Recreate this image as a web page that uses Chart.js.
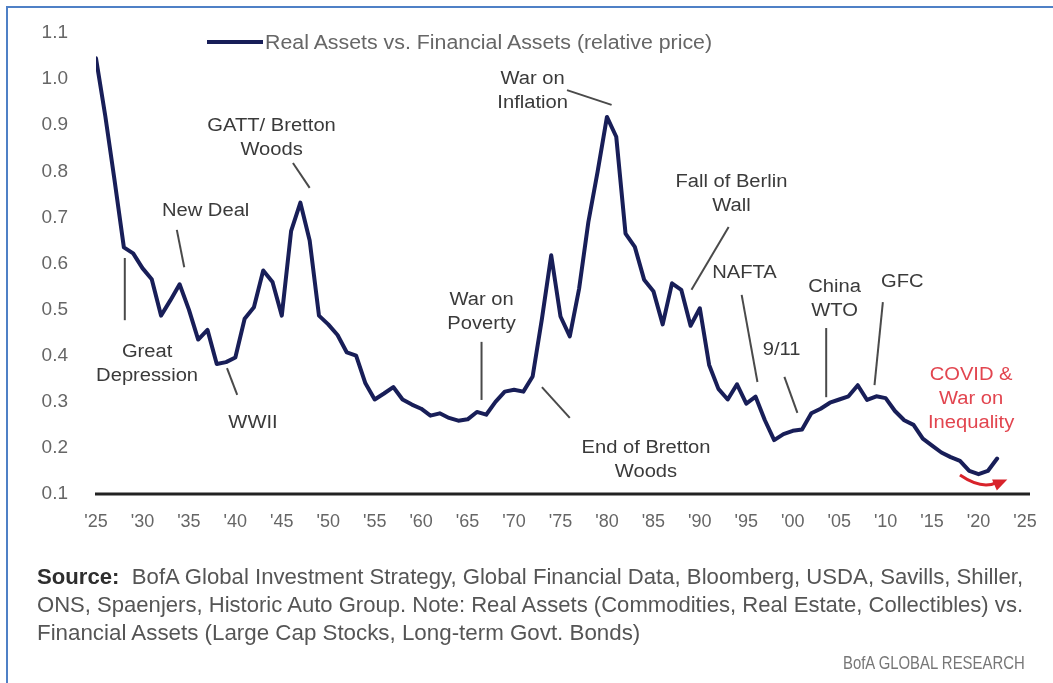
<!DOCTYPE html>
<html>
<head>
<meta charset="utf-8">
<title>Real Assets vs. Financial Assets</title>
<script src="https://cdn.jsdelivr.net/npm/chart.js@4.4.1/dist/chart.umd.min.js"></script>
<style>
  html, body { margin: 0; padding: 0; background: #fff; }
  #wrap { position: relative; width: 1053px; height: 683px; overflow: hidden; background: #fff; }
  #frame { position: absolute; left: 6px; top: 6px; width: 1200px; height: 800px;
           border-top: 2px solid #4f80c6; border-left: 2px solid #4f80c6; }
  #c { position: absolute; left: 0; top: 0; }
  .txt { position: absolute; white-space: nowrap; line-height: 1;
         font-family: "Liberation Sans", Arial, sans-serif; transform-origin: 0 50%; }
  .note { font-family: "Liberation Sans Narrow", "Liberation Sans", Arial, sans-serif; }
  #swatch { position: absolute; left: 207px; top: 40px; width: 56px; height: 4px; background: #181e58; }
</style>
</head>
<body>
<div id="wrap">
  <div id="frame"></div>
  <canvas id="c" width="1053" height="683"></canvas>
  <div id="swatch"></div>
  <div class="txt" data-x="265" data-y="42" data-w="447" style="font-size:20px;color:#666">Real Assets vs. Financial Assets (relative price)</div>
  <div class="txt note" data-x="37" data-y="577" data-w="986" style="font-size:22px;color:#555"><b style="color:#2e2e2e">Source:</b>&nbsp; BofA Global Investment Strategy, Global Financial Data, Bloomberg, USDA, Savills, Shiller,</div>
  <div class="txt note" data-x="37" data-y="605" data-w="986" style="font-size:22px;color:#555">ONS, Spaenjers, Historic Auto Group. Note: Real Assets (Commodities, Real Estate, Collectibles) vs.</div>
  <div class="txt note" data-x="37" data-y="633" data-w="603" style="font-size:22px;color:#555">Financial Assets (Large Cap Stocks, Long-term Govt. Bonds)</div>
  <div class="txt note" data-x="1025" data-y="662" data-w="182" data-align="right" style="font-size:19px;color:#777">BofA GLOBAL RESEARCH</div>
</div>
<script>
// Annual relative price of real assets vs. financial assets
const years = [
  1925, 1926, 1927, 1928, 1929, 1930, 1931, 1932, 1933, 1934,
  1935, 1936, 1937, 1938, 1939, 1940, 1941, 1942, 1943, 1944,
  1945, 1946, 1947, 1948, 1949, 1950, 1951, 1952, 1953, 1954,
  1955, 1956, 1957, 1958, 1959, 1960, 1961, 1962, 1963, 1964,
  1965, 1966, 1967, 1968, 1969, 1970, 1971, 1972, 1973, 1974,
  1975, 1976, 1977, 1978, 1979, 1980, 1981, 1982, 1983, 1984,
  1985, 1986, 1987, 1988, 1989, 1990, 1991, 1992, 1993, 1994,
  1995, 1996, 1997, 1998, 1999, 2000, 2001, 2002, 2003, 2004,
  2005, 2006, 2007, 2008, 2009, 2010, 2011, 2012, 2013, 2014,
  2015, 2016, 2017, 2018, 2019, 2020, 2021, 2022
];
const relativePrice = [
  1.045, 0.92, 0.78, 0.635, 0.622, 0.59, 0.566, 0.487, 0.52, 0.555,
  0.50, 0.435, 0.456, 0.382, 0.386, 0.396, 0.48, 0.505, 0.585, 0.56,
  0.487, 0.67, 0.732, 0.65, 0.487, 0.468, 0.445, 0.407, 0.40, 0.34,
  0.305, 0.318, 0.332, 0.305, 0.294, 0.285, 0.27, 0.275, 0.265, 0.259,
  0.262, 0.278, 0.272, 0.30, 0.322, 0.326, 0.322, 0.355, 0.48, 0.618,
  0.485, 0.442, 0.545, 0.69, 0.80, 0.918, 0.875, 0.665, 0.636, 0.565,
  0.54, 0.468, 0.557, 0.543, 0.465, 0.503, 0.38, 0.328, 0.305, 0.338,
  0.296, 0.311, 0.26, 0.217, 0.23, 0.237, 0.24, 0.275, 0.285, 0.298,
  0.305, 0.312, 0.336, 0.304, 0.312, 0.308, 0.28, 0.26, 0.25, 0.22,
  0.205, 0.19, 0.18, 0.172, 0.15, 0.143, 0.15, 0.177
];
const seriesName = 'Real Assets vs. Financial Assets (relative price)';

// Axis ranges
const yearMin = 1925, yearMax = 2025, yearStep = 5;
const valueMin = 0.1, valueMax = 1.1, valueStep = 0.1;

// Event callouts: text lines anchored at (year, value)
const eventLabels = [
  { text: ['GATT/ Bretton', 'Woods'], year: 1943.9, value: 0.898 },
  { text: ['New Deal'], year: 1936.8, value: 0.714 },
  { text: ['Great', 'Depression'], year: 1930.5, value: 0.408 },
  { text: ['WWII'], year: 1941.9, value: 0.254 },
  { text: ['War on', 'Inflation'], year: 1972.0, value: 1.0 },
  { text: ['War on', 'Poverty'], year: 1966.5, value: 0.521 },
  { text: ['End of Bretton', 'Woods'], year: 1984.2, value: 0.2 },
  { text: ['Fall of Berlin', 'Wall'], year: 1993.4, value: 0.776 },
  { text: ['NAFTA'], year: 1994.8, value: 0.579 },
  { text: ['9/11'], year: 1998.8, value: 0.412 },
  { text: ['China', 'WTO'], year: 2004.5, value: 0.549 },
  { text: ['GFC'], year: 2011.8, value: 0.56 },
  { text: ['COVID &', 'War on', 'Inequality'], year: 2019.2, value: 0.358, red: true }
];
// Leader lines: [year1, value1, year2, value2]
const leaderLines = [
  [1946.2, 0.818, 1948.0, 0.764],
  [1933.7, 0.673, 1934.5, 0.592],
  [1928.1, 0.612, 1928.1, 0.477],
  [1939.1, 0.373, 1940.2, 0.315],
  [1975.7, 0.976, 1980.5, 0.944],
  [1966.5, 0.430, 1966.5, 0.304],
  [1973.0, 0.332, 1976.0, 0.265],
  [1993.1, 0.679, 1989.1, 0.543],
  [1994.5, 0.532, 1996.2, 0.343],
  [1999.1, 0.354, 2000.5, 0.276],
  [2003.6, 0.460, 2003.6, 0.310],
  [2009.7, 0.516, 2008.8, 0.336]
];
// Curved red arrow: start, bend, end as [year, value]
const arrowPath = [[2018.0, 0.141], [2020.4, 0.108], [2022.7, 0.128]];

const callouts = {
  id: 'callouts',
  afterDatasetsDraw(chart) {
    const { ctx, scales: { x, y } } = chart;
    const px = v => x.getPixelForValue(v);
    const py = v => y.getPixelForValue(v);
    ctx.save();

    // x-axis base line
    const base = py(valueMin);
    ctx.strokeStyle = '#222';
    ctx.lineWidth = 3;
    ctx.beginPath();
    ctx.moveTo(x.left - 1, base);
    ctx.lineTo(x.right + 5, base);
    ctx.stroke();

    // leader lines
    ctx.strokeStyle = '#4a4a4a';
    ctx.lineWidth = 2;
    leaderLines.forEach(([a, b, c, d]) => {
      ctx.beginPath();
      ctx.moveTo(px(a), py(b));
      ctx.lineTo(px(c), py(d));
      ctx.stroke();
    });

    // callout text
    ctx.font = '18px "Liberation Sans", Arial, sans-serif';
    ctx.textAlign = 'center';
    ctx.textBaseline = 'middle';
    eventLabels.forEach(l => {
      const cx = px(l.year), cy = py(l.value);
      l.text.forEach((t, i) => {
        ctx.save();
        ctx.translate(cx, cy + i * 24);
        ctx.scale(1.12, 1);
        ctx.fillStyle = l.red ? '#e2454f' : '#3a3a3a';
        ctx.fillText(t, 0, 0);
        ctx.restore();
      });
    });

    // red arrow
    const [s, m, e] = arrowPath.map(([a, b]) => [px(a), py(b)]);
    ctx.strokeStyle = '#d8232b';
    ctx.fillStyle = '#d8232b';
    ctx.lineWidth = 3;
    ctx.beginPath();
    ctx.moveTo(s[0], s[1]);
    ctx.quadraticCurveTo(m[0], m[1], e[0] - 6, e[1] + 1);
    ctx.stroke();
    const ang = Math.atan2(e[1] - m[1], e[0] - m[0]);
    ctx.beginPath();
    ctx.moveTo(e[0] + 4 * Math.cos(ang), e[1] + 4 * Math.sin(ang));
    ctx.lineTo(e[0] - 10 * Math.cos(ang) - 6 * Math.sin(ang), e[1] - 10 * Math.sin(ang) + 6 * Math.cos(ang));
    ctx.lineTo(e[0] - 10 * Math.cos(ang) + 6 * Math.sin(ang), e[1] - 10 * Math.sin(ang) - 6 * Math.cos(ang));
    ctx.closePath();
    ctx.fill();

    ctx.restore();
  }
};

new Chart(document.getElementById('c'), {
  type: 'line',
  data: {
    datasets: [{
      label: seriesName,
      data: years.map((yr, i) => ({ x: yr, y: relativePrice[i] })),
      borderColor: '#181e58',
      backgroundColor: '#181e58',
      borderWidth: 4,
      pointRadius: 0,
      tension: 0,
      borderJoinStyle: 'round',
      borderCapStyle: 'round'
    }]
  },
  options: {
    responsive: false,
    animation: false,
    devicePixelRatio: 1,
    layout: { padding: { top: 33, right: 28, left: 0, bottom: 0 } },
    plugins: { legend: { display: false }, tooltip: { enabled: false } },
    scales: {
      x: {
        type: 'linear',
        min: yearMin, max: yearMax,
        afterFit: s => { s.height = 189; s.paddingLeft = 0; s.paddingRight = 0; },
        grid: { display: false, drawTicks: false },
        border: { display: false },
        ticks: {
          stepSize: yearStep,
          padding: 17,
          color: '#666',
          font: { family: '"Liberation Sans", Arial, sans-serif', size: 18 },
          callback: v => "'" + String(v % 100).padStart(2, '0')
        }
      },
      y: {
        min: valueMin, max: valueMax,
        afterFit: s => { s.width = 96; s.paddingTop = 0; s.paddingBottom = 0; },
        grid: { display: false, drawTicks: false },
        border: { display: false },
        ticks: {
          stepSize: valueStep,
          padding: 28,
          color: '#666',
          font: { family: '"Liberation Sans", Arial, sans-serif', size: 19 },
          callback: v => Number(v).toFixed(1)
        }
      }
    }
  },
  plugins: [callouts]
});

// Fit HTML text lines to their set widths
document.querySelectorAll('.txt').forEach(el => {
  const w = +el.dataset.w;
  const nat = el.offsetWidth;
  const left = el.dataset.align === 'right' ? (+el.dataset.x - w) : +el.dataset.x;
  el.style.left = left + 'px';
  el.style.top = (+el.dataset.y - el.offsetHeight / 2) + 'px';
  el.style.transform = 'scaleX(' + (w / nat) + ')';
});
</script>
</body>
</html>
